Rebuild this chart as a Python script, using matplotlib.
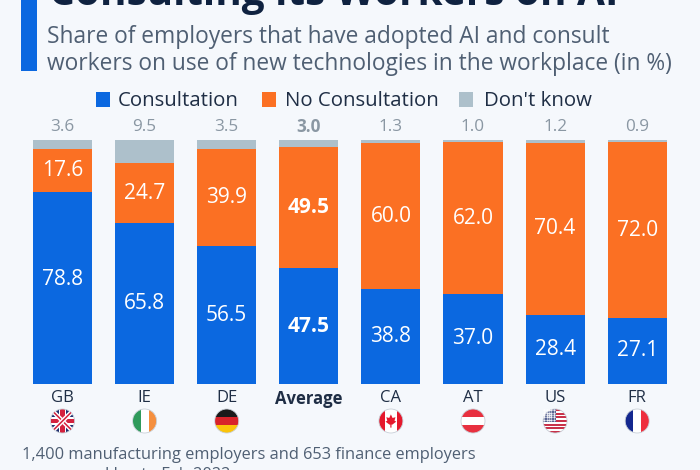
import numpy as np
import matplotlib
matplotlib.use('Agg')
import matplotlib.pyplot as plt
from matplotlib.patches import Circle, Rectangle, Polygon

plt.rcParams['font.family'] = ['Open Sans', 'DejaVu Sans']

countries = ['GB', 'IE', 'DE', 'Average', 'CA', 'AT', 'US', 'FR']
consultation = [78.8, 65.8, 56.5, 47.5, 38.8, 37.0, 28.4, 27.1]
no_consultation = [17.6, 24.7, 39.9, 49.5, 60.0, 62.0, 70.4, 72.0]
dont_know = [3.6, 9.5, 3.5, 3.0, 1.3, 1.0, 1.2, 0.9]
legend_names = ['Consultation', 'No Consultation', "Don't know"]

BG = '#f5f8fc'
BLUE = '#0b68e0'
ORANGE = '#fb7023'
GREY = '#adc0cb'
NAVY = '#1f2e45'
SLATE = '#4f5f73'

fig = plt.figure(figsize=(7, 4.7), dpi=100, facecolor=BG)

# overlay in pixel coords for text and flags
bg = fig.add_axes([0, 0, 1, 1])
bg.set_xlim(0, 700)
bg.set_ylim(470, 0)
bg.axis('off')

# bars
ax = fig.add_axes([0, (470 - 384) / 470, 1, 244 / 470])
ax.patch.set_alpha(0)
step = 82.1
ax.set_xlim(-62.5 / step, (700 - 62.5) / step)
ax.set_ylim(0, 100)
ax.axis('off')
x = np.arange(len(countries))
c = np.array(consultation)
n = np.array(no_consultation)
d = np.array(dont_know)
ax.bar(x, c, 0.72, color=BLUE)
ax.bar(x, n, 0.72, bottom=c, color=ORANGE)
ax.bar(x, d, 0.72, bottom=c + n, color=GREY)

for i in x:
    w = 'bold' if countries[i] == 'Average' else 'normal'
    # the GB label sits higher than the middle of its bar in the original
    lift = 3.6 if countries[i] == 'GB' else 0
    ax.text(i, c[i] / 2 + lift, f'{c[i]:.1f}', ha='center', va='center', color='white', fontsize=15, fontweight=w)
    ax.text(i, c[i] + n[i] / 2, f'{n[i]:.1f}', ha='center', va='center', color='white', fontsize=15, fontweight=w)
    ax.text(i, 105.2, f'{d[i]:.1f}', ha='center', va='center', color='#8a97a3', fontsize=12.3, fontweight=w)
    ax.text(i, -2.6, countries[i], ha='center', va='top', color=NAVY, fontsize=12, fontweight=w)

# title, cut off at the top of the picture
bg.add_patch(Rectangle((21, 0), 16, 70.5, color=BLUE, lw=0))
bg.text(49, 5, 'Consulting its Workers on AI', fontsize=29.2, fontweight='bold', color='#0f2240', va='baseline', ha='left', clip_on=True)
bg.text(47, 43, 'Share of employers that have adopted AI and consult', fontsize=16.43, color=SLATE, va='baseline')
bg.text(47, 70, 'workers on use of new technologies in the workplace (in %)', fontsize=16.43, color=SLATE, va='baseline')

# legend
for px, col, tx, name in [(96, BLUE, 118, legend_names[0]), (262, ORANGE, 285, legend_names[1]), (459, GREY, 484, legend_names[2])]:
    bg.add_patch(Rectangle((px, 92), 14, 15, color=col, lw=0))
    bg.text(tx, 106, name, fontsize=14.7, color=NAVY, va='baseline')

# flags
def flag(cx, cy, name):
    r = 12
    clip = Circle((cx, cy), r, transform=bg.transData)
    def rect(x0, y0, w, h, col):
        p = Rectangle((cx + x0 * r, cy + y0 * r), w * r, h * r, color=col, lw=0)
        bg.add_patch(p)
        p.set_clip_path(clip)
    if name == 'GB':
        rect(-1, -1, 2, 2, '#1f2f6e')
        for sgn in (1, -1):
            ln, = bg.plot([cx - r, cx + r], [cy - sgn * r, cy + sgn * r], color='white', lw=3.2)
            ln.set_clip_path(clip)
            ln, = bg.plot([cx - r, cx + r], [cy - sgn * r, cy + sgn * r], color='#d4213d', lw=1.1)
            ln.set_clip_path(clip)
        rect(-1, -0.3, 2, 0.6, 'white')
        rect(-0.3, -1, 0.6, 2, 'white')
        rect(-1, -0.17, 2, 0.34, '#d4213d')
        rect(-0.17, -1, 0.34, 2, '#d4213d')
    elif name == 'IE':
        rect(-1, -1, 0.67, 2, '#2f9a5b')
        rect(-0.33, -1, 0.67, 2, 'white')
        rect(0.33, -1, 0.67, 2, '#f58f3e')
    elif name == 'DE':
        rect(-1, -1, 2, 0.67, '#1a1a1a')
        rect(-1, -0.33, 2, 0.67, '#d8232a')
        rect(-1, 0.33, 2, 0.67, '#fbc40a')
    elif name == 'CA':
        rect(-1, -1, 0.5, 2, '#e5182c')
        rect(-0.5, -1, 1, 2, 'white')
        rect(0.5, -1, 0.5, 2, '#e5182c')
        leaf = np.array([[0, -0.55], [0.14, -0.25], [0.38, -0.32], [0.3, -0.02], [0.45, 0.05], [0.12, 0.3], [0.05, 0.3], [0.05, 0.55],
                         [-0.05, 0.55], [-0.05, 0.3], [-0.12, 0.3], [-0.45, 0.05], [-0.3, -0.02], [-0.38, -0.32], [-0.14, -0.25]])
        bg.add_patch(Polygon(np.c_[cx + leaf[:, 0] * r, cy + leaf[:, 1] * r], color='#e5182c', lw=0))
    elif name == 'AT':
        rect(-1, -1, 2, 0.67, '#e8303f')
        rect(-1, -0.33, 2, 0.67, 'white')
        rect(-1, 0.33, 2, 0.67, '#e8303f')
    elif name == 'US':
        for k in range(13):
            rect(-1, -1 + k * 2 / 13, 2, 2 / 13, '#c8324a' if k % 2 == 0 else 'white')
        rect(-1, -1, 1.05, 1.08, '#3c4a80')
        for sx in np.arange(-0.9, 0, 0.2):
            for sy in np.arange(-0.9, 0.05, 0.2):
                bg.plot(cx + sx * r, cy + sy * r, '.', color='white', ms=1.2)
    elif name == 'FR':
        rect(-1, -1, 0.67, 2, '#14288f')
        rect(-0.33, -1, 0.67, 2, 'white')
        rect(0.33, -1, 0.67, 2, '#ee2f3e')
    bg.add_patch(Circle((cx, cy), r, fill=False, ec='#c9d0d8', lw=0.6))

for i, name in enumerate(countries):
    if name != 'Average':
        flag(62.5 + i * step, 421, name)

# note, the second line runs off the bottom
bg.text(22, 459, '1,400 manufacturing employers and 653 finance employers', fontsize=11.8, color=SLATE, va='baseline')
bg.text(40, 479, 'surveyed Jan to Feb 2022', fontsize=11.8, color=SLATE, va='baseline')

fig.savefig('out.png', dpi=100, facecolor=BG)
